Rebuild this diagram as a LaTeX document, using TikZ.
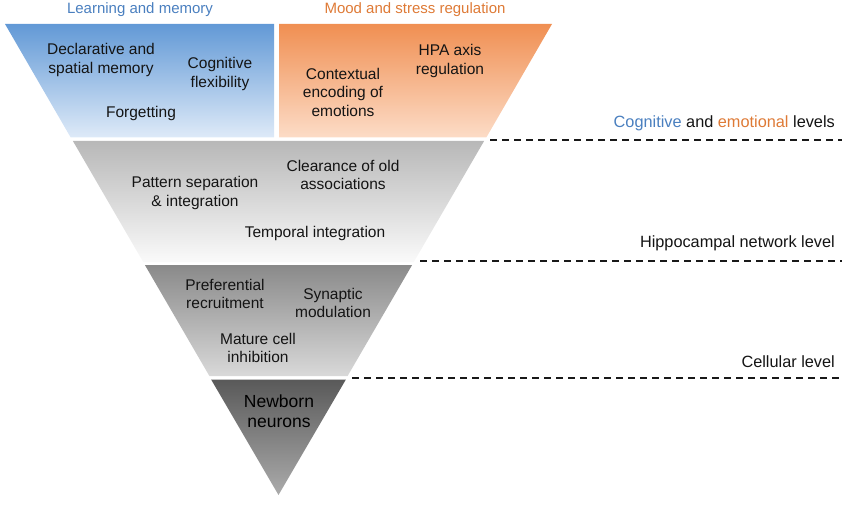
\documentclass[tikz,border=0pt]{standalone}
\usepackage{fontspec}
\setmainfont{Liberation Sans}
\definecolor{lmblue}{HTML}{4A7FBF}
\definecolor{msorange}{HTML}{DE7A36}
\definecolor{bluetop}{HTML}{6299D6}
\definecolor{bluebot}{HTML}{DEEAF8}
\definecolor{orgtop}{HTML}{F08F52}
\definecolor{orgbot}{HTML}{FCDCC7}
\definecolor{txt}{HTML}{141414}
\tikzset{
  lbl/.style={font=\fontsize{15.5}{18.5}\selectfont, text=txt, align=center, inner sep=0pt},
  head/.style={font=\fontsize{15}{18}\selectfont, inner sep=0pt},
  lvl/.style={font=\fontsize{16.3}{19}\selectfont, text=txt, anchor=east, inner sep=0pt},
  lvline/.style={line width=1.6pt, dash pattern=on 7pt off 5pt, black!90}
}
\begin{document}
\begin{tikzpicture}[x=1pt,y=-1pt]
\useasboundingbox (0,0) rectangle (850,505);
% top band
\shade[top color=bluetop, bottom color=bluebot] (5,24) -- (274,24) -- (274,137.5) -- (70.7,137.5) -- cycle;
\shade[top color=orgtop, bottom color=orgbot] (279,24) -- (552,24) -- (486.3,137.5) -- (279,137.5) -- cycle;
% network band
\shade[top color=black!28, bottom color=black!2] (72.9,141) -- (484.1,141) -- (413.8,262) -- (143.2,262) -- cycle;
% cellular band
\shade[top color=black!46, bottom color=black!15] (144.9,265) -- (412.1,265) -- (347.6,376) -- (209.4,376) -- cycle;
% newborn
\shade[top color=black!65, bottom color=black!33] (211.1,379.5) -- (345.9,379.5) -- (278.5,495) -- cycle;

% headings
\node[head, text=lmblue] (h1) at (140,10) {Learning and memory};
\node[head, text=msorange] (h2) at (415,10) {Mood and stress regulation};

% top band labels
\node[lbl] (decl) at (101,60) {Declarative and\\spatial memory};
\node[lbl] (cogf) at (220,74) {Cognitive\\flexibility};
\node[lbl] (forg) at (141,113) {Forgetting};
\node[lbl] (ctx) at (343,92) {Contextual\\encoding of\\emotions};
\node[lbl] (hpa) at (450,61) {HPA axis\\regulation};

% network labels
\node[lbl] (pat) at (195,193) {Pattern separation\\\& integration};
\node[lbl] (clr) at (343,175) {Clearance of old\\associations};
\node[lbl] (tmp) at (315,233) {Temporal integration};

% cellular labels
\node[lbl] (pref) at (225,294) {Preferential\\recruitment};
\node[lbl] (syn) at (333,303) {Synaptic\\modulation};
\node[lbl] (mat) at (258,348) {Mature cell\\inhibition};

% newborn
\node[lbl, font=\fontsize{17.5}{20}\selectfont, text=black] (nb) at (279,411) {Newborn\\neurons};

% level labels
\node[lvl] (l1) at (835,123) {\textcolor{lmblue}{Cognitive} and \textcolor{msorange}{emotional} levels};
\node[lvl] (l2) at (835,243) {Hippocampal network level};
\node[lvl] (l3) at (835,362) {Cellular level};

% dashed lines
\coordinate (d1a) at (490,140); \coordinate (d1b) at (842,140);
\coordinate (d2a) at (420,261); \coordinate (d2b) at (842,261);
\coordinate (d3a) at (352,378); \coordinate (d3b) at (842,378);
\draw[lvline] (d1a) -- (d1b);
\draw[lvline] (d2a) -- (d2b);
\draw[lvline] (d3a) -- (d3b);
\end{tikzpicture}
\end{document}
